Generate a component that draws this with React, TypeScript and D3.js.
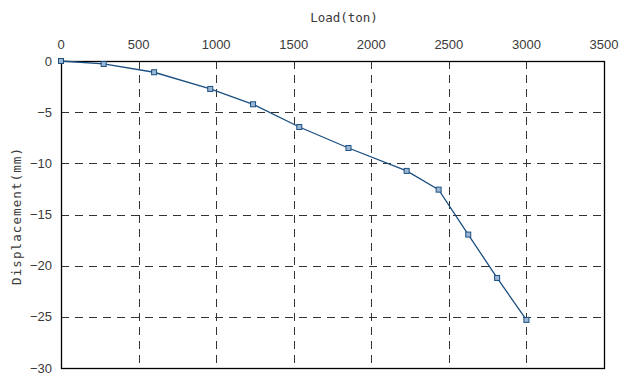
import React from "react";
import * as d3 from "d3";

const loads = [0, 275, 600, 962, 1238, 1536, 1853, 2228, 2434, 2625, 2811, 3000];
const displacements = [0, -0.29, -1.1, -2.73, -4.23, -6.45, -8.5, -10.74, -12.57, -16.96, -21.2, -25.3];
const xTicks = [0, 500, 1000, 1500, 2000, 2500, 3000, 3500];
const yTicks = [0, -5, -10, -15, -20, -25, -30];
const xTitle = "Load(ton)";
const yTitle = "Displacement(mm)";

const W = 625, H = 377;
const M = { left: 61, right: 604, top: 61, bottom: 368 };
const TICK_FONT = "'Liberation Sans Narrow', 'Arial Narrow', 'Liberation Sans', sans-serif";
const TITLE_FONT = "'DejaVu Sans Mono', 'Liberation Mono', monospace";
const TEXT = "#3a3a3a";
const LINE = "#1b4f80";
const fmt = d3.format("d");

export default function App() {
  const x = d3.scaleLinear().domain([0, 3500]).range([M.left, M.right]);
  const y = d3.scaleLinear().domain([0, -30]).range([M.top, M.bottom]);
  const data = loads.map((l, i) => [l, displacements[i]] as [number, number]);
  const line = d3.line<[number, number]>().x(d => x(d[0])).y(d => y(d[1]));
  return (
    <svg width={W} height={H} style={{ position: "absolute", left: 0, top: 0 }}>
      <rect x={0} y={0} width={W} height={H} fill="#fff" />
      {xTicks.slice(1, -1).map(t => (
        <line key={"gx" + t} x1={Math.round(x(t)) + 0.5} x2={Math.round(x(t)) + 0.5} y1={M.top} y2={M.bottom}
          stroke="#333" strokeWidth={1} strokeDasharray="8,6" />
      ))}
      {yTicks.slice(1, -1).map(t => (
        <line key={"gy" + t} y1={Math.round(y(t)) + 0.5} y2={Math.round(y(t)) + 0.5} x1={M.left} x2={M.right}
          stroke="#333" strokeWidth={1} strokeDasharray="8,6" />
      ))}
      <rect x={M.left + 0.5} y={M.top + 0.5} width={M.right - M.left} height={M.bottom - M.top}
        fill="none" stroke="#000" strokeWidth={1.3} />
      {xTicks.map(t => (
        <text key={"tx" + t} x={x(t)} y={49} textAnchor="middle" fontFamily={TICK_FONT} fontSize={13} fill={TEXT}>{fmt(t)}</text>
      ))}
      {yTicks.map(t => (
        <text key={"ty" + t} x={52} y={y(t) + 4.5} textAnchor="end" fontFamily={TICK_FONT} fontSize={13} fill={TEXT}>{fmt(t)}</text>
      ))}
      <text x={344} y={22} textAnchor="middle" fontFamily={TITLE_FONT} fontSize={12.5} letterSpacing={-0.05} fill={TEXT}>{xTitle}</text>
      <text transform={`translate(21,216) rotate(-90)`} textAnchor="middle"
        fontFamily={TITLE_FONT} fontSize={12.5} letterSpacing={1.1} fill={TEXT}>{yTitle}</text>
      <path d={line(data) || ""} fill="none" stroke={LINE} strokeWidth={1.3} />
      {data.map((d, i) => (
        <rect key={"m" + i} x={x(d[0]) - 2.5} y={y(d[1]) - 2.5} width={5} height={5}
          fill="#9bb7d4" stroke={LINE} strokeWidth={1} />
      ))}
    </svg>
  );
}
